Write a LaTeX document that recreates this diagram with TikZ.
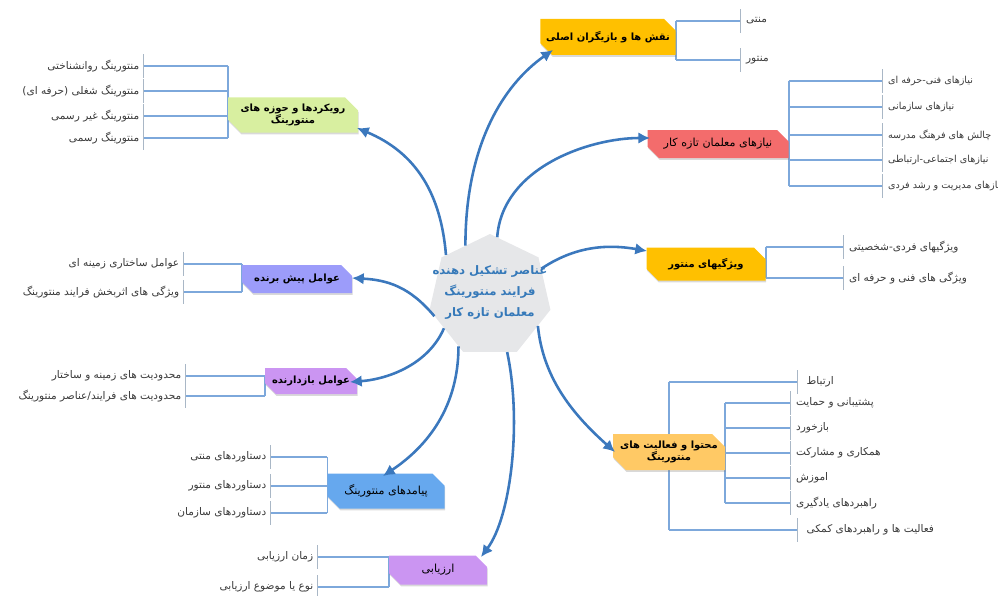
\documentclass[tikz,border=0pt]{standalone}
\usepackage{fontspec}
\newfontfamily\farsifont[Script=Arabic]{DejaVu Sans}
\TeXXeTstate=1
\usetikzlibrary{calc,arrows.meta,shapes.geometric,shapes.misc,backgrounds,shadows}

\newcommand{\fa}[1]{\beginR #1\endR}

\definecolor{spokeblue}{HTML}{3B78BD}
\definecolor{linkblue}{HTML}{7DA8DB}
\definecolor{tickgray}{HTML}{A9B7C6}
\definecolor{leaftext}{HTML}{3A3A3A}
\definecolor{hubgray}{HTML}{E6E7E9}
\definecolor{hubtext}{HTML}{3579B9}
\definecolor{gold}{HTML}{FFC000}
\definecolor{salmon}{HTML}{F36C6C}
\definecolor{peach}{HTML}{FFC965}
\definecolor{lime}{HTML}{D8EFA0}
\definecolor{lavender}{HTML}{9C9CFA}
\definecolor{orchid}{HTML}{CB95F2}
\definecolor{sky}{HTML}{66A8EE}

\tikzset{
  spoke/.style={draw=spokeblue, line width=2.2pt, -{Latex[length=10pt,width=10pt]}},
  link/.style={draw=linkblue, line width=1.3pt},
  leaftick/.style={draw=tickgray, line width=0.7pt},
  hub/.style={regular polygon, regular polygon sides=7, fill=hubgray,
    minimum size=37.2mm, inner sep=0pt},
  hubtitle/.style={text=hubtext, align=center,
    font=\farsifont\bfseries\fontsize{10}{18}\selectfont},
  topic/.style 2 args={chamfered rectangle,
    chamfered rectangle corners={north east,south west},
    chamfered rectangle xsep=6pt, chamfered rectangle ysep=5pt, inner sep=0pt,
    minimum width=#1*0.3mm, minimum height=#2*0.3mm, align=center,
    font=\farsifont\fontsize{9.5}{11}\selectfont,
    drop shadow={shadow xshift=0.6pt, shadow yshift=-1.6pt, opacity=0.3, fill=black!50}},
  strong/.style={font=\farsifont\bfseries\fontsize{8.5}{10}\selectfont},
  leafR/.style={anchor=west, inner xsep=5pt, inner ysep=1pt, text=leaftext,
    font=\farsifont\fontsize{9}{11}\selectfont,
    append after command={([yshift=10pt]\tikzlastnode.west) edge[leaftick] ([yshift=-10pt]\tikzlastnode.west)}},
  leafL/.style={anchor=east, inner xsep=3pt, inner ysep=1pt, text=leaftext,
    font=\farsifont\fontsize{9}{11}\selectfont,
    append after command={([yshift=10pt]\tikzlastnode.east) edge[leaftick] ([yshift=-10pt]\tikzlastnode.east)}},
  small/.style={font=\farsifont\fontsize{8.2}{10}\selectfont}
}

\begin{document}
\begin{tikzpicture}[x=0.3mm,y=-0.3mm]
  \useasboundingbox (0,0) rectangle (998,596);

  % centre
  \node[hub, label={[hubtitle, yshift=3pt]center:{\fa{عناصر تشکیل دهنده}\\\fa{فرایند منتورینگ}\\\fa{معلمان تازه کار}}}] (hub) at (490,296) {};

  % topics
  \node[topic={120}{36}, fill=gold, strong] (roles) at (608,37) {\fa{نقش ها و بازیگران اصلی}};
  \node[topic={141}{28}, fill=salmon] (needs) at (718,144) {\fa{نیازهای معلمان تازه کار}};
  \node[topic={119}{33}, fill=gold, strong] (traits) at (706,264) {\fa{ویژگیهای منتور}};
  \node[topic={112}{36}, fill=peach, strong] (content) at (669,452) {\fa{محتوا و فعالیت های}\\\fa{منتورینگ}};
  \node[topic={130}{35}, fill=lime, strong] (approach) at (293,115) {\fa{رویکردها و حوزه های}\\\fa{منتورینگ}};
  \node[topic={110}{28}, fill=lavender, strong] (drivers) at (297,279) {\fa{عوامل پیش برنده}};
  \node[topic={92}{26}, fill=orchid, strong] (barriers) at (311,381) {\fa{عوامل بازدارنده}};
  \node[topic={117}{35}, fill=sky] (outcomes) at (386,491) {\fa{پیامدهای منتورینگ}};
  \node[topic={98}{29}, fill=orchid] (assess) at (438,570) {\fa{ارزیابی}};

  % leaves, right side
  \foreach \y/\t [count=\i] in {21/{منتی},60/{منتور}}
    \node[leafR] (role\i) at (740,\y) {\fa{\t}};
  \foreach \y/\t [count=\i] in {81/{نیازهای فنی-حرفه ای},107/{نیازهای سازمانی},
      135/{چالش های فرهنگ مدرسه},160/{نیازهای اجتماعی-ارتباطی},186/{نیازهای مدیریت و رشد فردی}}
    \node[leafR, small] (need\i) at (882,\y) {\fa{\t}};
  \foreach \y/\t [count=\i] in {247/{ویژگیهای فردی-شخصیتی},278/{ویژگی های فنی و حرفه ای}}
    \node[leafR] (trait\i) at (843,\y) {\fa{\t}};
  \foreach \y/\t [count=\i] in {382/{ارتباط},530/{فعالیت ها و راهبردهای کمکی}}
    \node[leafR, inner xsep=8pt] (cnt\i) at (797,\y) {\fa{\t}};
  \foreach \y/\t [count=\i] in {403/{پشتیبانی و حمایت},428/{بازخورد},453/{همکاری و مشارکت},
      478/{اموزش},503/{راهبردهای یادگیری}}
    \node[leafR] (sup\i) at (790,\y) {\fa{\t}};

  % leaves, left side
  \foreach \y/\t [count=\i] in {66/{منتورینگ روانشناختی},91/{منتورینگ شغلی (حرفه ای)},
      116/{منتورینگ غیر رسمی},138/{منتورینگ رسمی}}
    \node[leafL] (appr\i) at (143,\y) {\fa{\t}};
  \foreach \y/\t [count=\i] in {264/{عوامل ساختاری زمینه ای},292/{ویژگی های اثربخش فرایند منتورینگ}}
    \node[leafL] (drv\i) at (183,\y) {\fa{\t}};
  \foreach \y/\t [count=\i] in {376/{محدودیت های زمینه و ساختار},396/{محدودیت های فرایند/عناصر منتورینگ}}
    \node[leafL] (bar\i) at (185,\y) {\fa{\t}};
  \foreach \y/\t [count=\i] in {457/{دستاوردهای منتی},486/{دستاوردهای منتور},513/{دستاوردهای سازمان}}
    \node[leafL] (out\i) at (270,\y) {\fa{\t}};
  \foreach \y/\t [count=\i] in {557/{زمان ارزیابی},587/{نوع یا موضوع ارزیابی}}
    \node[leafL] (asm\i) at (317,\y) {\fa{\t}};

  % brackets
  \begin{scope}[on background layer]
    \draw[link] (roles.east |- role1.west) -- (roles.east |- role2.west);
    \foreach \i in {1,2} \draw[link] (roles.east |- role\i.west) -- (role\i.west);
    \draw[link] (needs.east |- need1.west) -- (needs.east |- need5.west);
    \foreach \i in {1,...,5} \draw[link] (needs.east |- need\i.west) -- (need\i.west);
    \draw[link] (traits.east |- trait1.west) -- (traits.east |- trait2.west);
    \foreach \i in {1,2} \draw[link] (traits.east |- trait\i.west) -- (trait\i.west);
    \draw[link] (content.center |- cnt1.west) -- (content.center |- cnt2.west);
    \foreach \i in {1,2} \draw[link] (content.center |- cnt\i.west) -- (cnt\i.west);
    \draw[link] (content.east |- sup1.west) -- (content.east |- sup5.west);
    \foreach \i in {1,...,5} \draw[link] (content.east |- sup\i.west) -- (sup\i.west);
    \draw[link] (approach.west |- appr1.east) -- (approach.west |- appr4.east);
    \foreach \i in {1,...,4} \draw[link] (approach.west |- appr\i.east) -- (appr\i.east);
    \draw[link] (drivers.west |- drv1.east) -- (drivers.west |- drv2.east);
    \foreach \i in {1,2} \draw[link] (drivers.west |- drv\i.east) -- (drv\i.east);
    \draw[link] (barriers.west |- bar1.east) -- (barriers.west |- bar2.east);
    \foreach \i in {1,2} \draw[link] (barriers.west |- bar\i.east) -- (bar\i.east);
    \draw[link] (outcomes.west |- out1.east) -- (outcomes.west |- out3.east);
    \foreach \i in {1,2,3} \draw[link] (outcomes.west |- out\i.east) -- (out\i.east);
    \draw[link] (assess.west |- asm1.east) -- (assess.west |- asm2.east);
    \foreach \i in {1,2} \draw[link] (assess.west |- asm\i.east) -- (asm\i.east);
  \end{scope}

  % spokes
  \draw[spoke] (hub.116) .. controls +(0,-100) and +(-50,35) .. ($(roles.center)+(-55,13)$);
  \draw[spoke] (hub.83) .. controls +(5,-70) and +(-60,0) .. ($(needs.center)+(-68,-6)$);
  \draw[spoke] (hub.28) .. controls +(30,-20) and +(-45,-8) .. ($(traits.center)+(-59,-13)$);
  \draw[spoke] (hub.-32) .. controls +(5,50) and +(-45,-40) .. ($(content.center)+(-54,0)$);
  \draw[spoke] (hub.-73) .. controls +(15,70) and +(30,-40) .. ($(assess.center)+(43,-13)$);
  \draw[spoke] (hub.-122) .. controls +(0,60) and +(45,-30) .. ($(outcomes.center)+(-3,-15)$);
  \draw[spoke] (hub.215) .. controls +(-15,35) and +(40,-3) .. ($(barriers.center)+(39,1)$);
  \draw[spoke] (hub.200) .. controls +(-25,-30) and +(35,2) .. ($(drivers.center)+(55,-1)$);
  \draw[spoke] (hub.137) .. controls +(-5,-60) and +(60,25) .. ($(approach.center)+(64,13)$);
\end{tikzpicture}
\end{document}
